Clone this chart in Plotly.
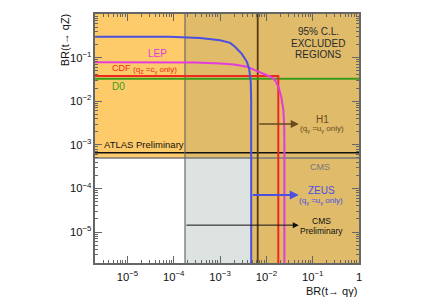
import math
import plotly.graph_objects as go

# ---- data ----
# ZEUS (t -> u gamma) contour
zeus_x = [1e-6, 8e-5, 3.7e-4, 1.0e-3, 1.65e-3, 2.1e-3, 2.95e-3, 3.8e-3, 4.25e-3, 4.6e-3, 4.7e-3, 4.7e-3]
zeus_y = [0.30, 0.30, 0.283, 0.25, 0.218, 0.177, 0.122, 0.080, 0.055, 0.028, 0.0098, 1e-7]
# LEP contour
lep_x = [1e-6, 3e-4, 1e-3, 2e-3, 3.8e-3, 6.3e-3, 9.5e-3, 0.0125, 0.0155, 0.0185, 0.021, 0.0232, 0.0242, 0.0245, 0.0245]
lep_y = [0.078, 0.077, 0.0735, 0.0695, 0.062, 0.050, 0.042, 0.036, 0.030, 0.0205, 0.0125, 0.0065, 0.003, 0.0012, 1e-7]
# CDF limit
cdf_x = [1e-6, 0.0181, 0.0181]
cdf_y = [0.0377, 0.0377, 1e-7]
# D0 limit
d0_y = 0.0327
# ATLAS / CMS t->qZ limits
atlas_y = 6.6e-4
cms_y = 5.0e-4
# CMS preliminary, H1 t->q gamma limits
cmsprel_x = 1.75e-4
h1_x = 6.5e-3
zeus_lim_x = 4.7e-3
# arrow heights and ends
h1_arrow_y = 3.0e-3
zeus_arrow_y = 7.1e-5
cmsprel_arrow_y = 1.44e-5
arrow_end_x = 0.050

LO, HI = 1e-7, 10.0

fig = go.Figure()

def rect(x0, x1, y0, y1, color):
    fig.add_trace(go.Scatter(x=[x0, x1, x1, x0, x0], y=[y0, y0, y1, y1, y0],
                             mode="lines", line=dict(width=0), fill="toself",
                             fillcolor=color, hoverinfo="skip", showlegend=False))

ORANGE = "#FECB6A"
TAN = "#DFBB6A"
GREY = "#DCE3E1"
rect(LO, cmsprel_x, cms_y, HI, ORANGE)
rect(cmsprel_x, HI, cms_y, HI, TAN)
rect(cmsprel_x, zeus_lim_x, LO, cms_y, GREY)
rect(zeus_lim_x, HI, LO, cms_y, TAN)

def line(x, y, color, width):
    fig.add_trace(go.Scatter(x=x, y=y, mode="lines", line=dict(color=color, width=width),
                             hoverinfo="skip", showlegend=False))

line([LO, HI], [cms_y, cms_y], "#7a7a7a", 1.5)
line([LO, HI], [atlas_y, atlas_y], "#111111", 1.5)
line([cmsprel_x, cmsprel_x], [LO, HI], "#6a6a6a", 1.2)
line([h1_x, h1_x], [LO, HI], "#5A3A12", 1.8)
line([LO, HI], [d0_y, d0_y], "#3A9A1A", 2)
line(cdf_x, cdf_y, "#F0281E", 2)
line(lep_x, lep_y, "#E23CDC", 2)
line(zeus_x, zeus_y, "#4B50E0", 2)

FONT = "Liberation Sans, Arial, Helvetica, sans-serif"

# page offset from the default body margin of the browser
OFF = 8
W, H = 432 - OFF, 305 - OFF
# plot area in page pixels (as in the reference)
L, R, T, B = 95, 359, 12, 263
def px(xp):
    return (xp - L) / (R - L)
def py(yp):
    return (B - yp) / (B - T)

ann = []
def text(xp, yp, s, size, color, xanchor="center"):
    ann.append(dict(x=px(xp), y=py(yp), xref="paper", yref="paper", text=s, showarrow=False,
                    font=dict(family=FONT, size=size, color=color), xanchor=xanchor, yanchor="middle"))

text(318, 30, "95% C.L.", 10, "#2a2a2a")
text(318, 42, "EXCLUDED", 10, "#2a2a2a")
text(318, 53, "REGIONS", 10, "#2a2a2a")
text(157, 52, "LEP", 10, "#E23CDC")
text(110, 66.5, "CDF", 9, "#F0281E", "left")
text(131, 68, "(q<sub>Z</sub> =c<sub>γ</sub> only)", 8, "#F0281E", "left")
text(110, 85.5, "D0", 10, "#3A9A1A", "left")
text(102, 144, "ATLAS Preliminary", 9.5, "#111111", "left")
text(322, 118, "H1", 10, "#6B4A1E")
text(322, 127.5, "(q<sub>γ</sub> =u<sub>γ</sub> only)", 8, "#6B4A1E")
text(320, 166.5, "CMS", 9, "#777777")
text(321, 190, "ZEUS", 10, "#4B50E0")
text(321, 200, "(q<sub>γ</sub> =u<sub>γ</sub> only)", 8, "#4B50E0")
text(321, 221, "CMS", 8.5, "#111111")
text(321, 231, "Preliminary", 8.5, "#111111")

def arrow(x0, x1, y, color, width, size):
    ann.append(dict(x=math.log10(x1), y=math.log10(y), ax=math.log10(x0), ay=math.log10(y),
                    xref="x", yref="y", axref="x", ayref="y", text="", showarrow=True,
                    arrowhead=2, arrowsize=size, arrowwidth=width, arrowcolor=color))

arrow(h1_x, arrow_end_x, h1_arrow_y, "#6B4A1E", 1.6, 1.0)
arrow(zeus_lim_x, arrow_end_x, zeus_arrow_y, "#4B50E0", 2, 0.9)
arrow(cmsprel_x, arrow_end_x, cmsprel_arrow_y, "#111111", 1, 1.2)

# axis titles
ann.append(dict(x=px(65), y=py(38.5), xref="paper", yref="paper", text="BR(t→ qZ)", showarrow=False,
                font=dict(family=FONT, size=11, color="#111"), textangle=-90,
                xanchor="center", yanchor="middle"))
ann.append(dict(x=1.0, y=py(291), xref="paper", yref="paper", text="BR(t→ qγ)", showarrow=False,
                font=dict(family=FONT, size=11, color="#111"), xanchor="right", yanchor="middle"))

axis_common = dict(type="log", dtick=1, exponentformat="power", showgrid=False, zeroline=False,
                   showline=True, linecolor="#666666", linewidth=1.5, mirror="allticks",
                   ticks="inside", ticklen=7, tickwidth=1, tickcolor="#666666",
                   tickfont=dict(family=FONT, size=9, color="#111"),
                   minor=dict(ticks="inside", ticklen=3.5, tickwidth=1, tickcolor="#666666",
                              dtick="D1", showgrid=False))

fig.update_layout(
    width=W, height=H,
    margin=dict(l=L - OFF, r=(W + OFF) - R, t=T - OFF, b=(H + OFF) - B),
    paper_bgcolor="white", plot_bgcolor="white",
    showlegend=False,
    xaxis=dict(range=[-5.70, 0], ticklabelstandoff=3, **axis_common),
    yaxis=dict(range=[-5.71, 0], **axis_common),
    annotations=ann,
    font=dict(family=FONT),
)

fig.write_html("out.html")
